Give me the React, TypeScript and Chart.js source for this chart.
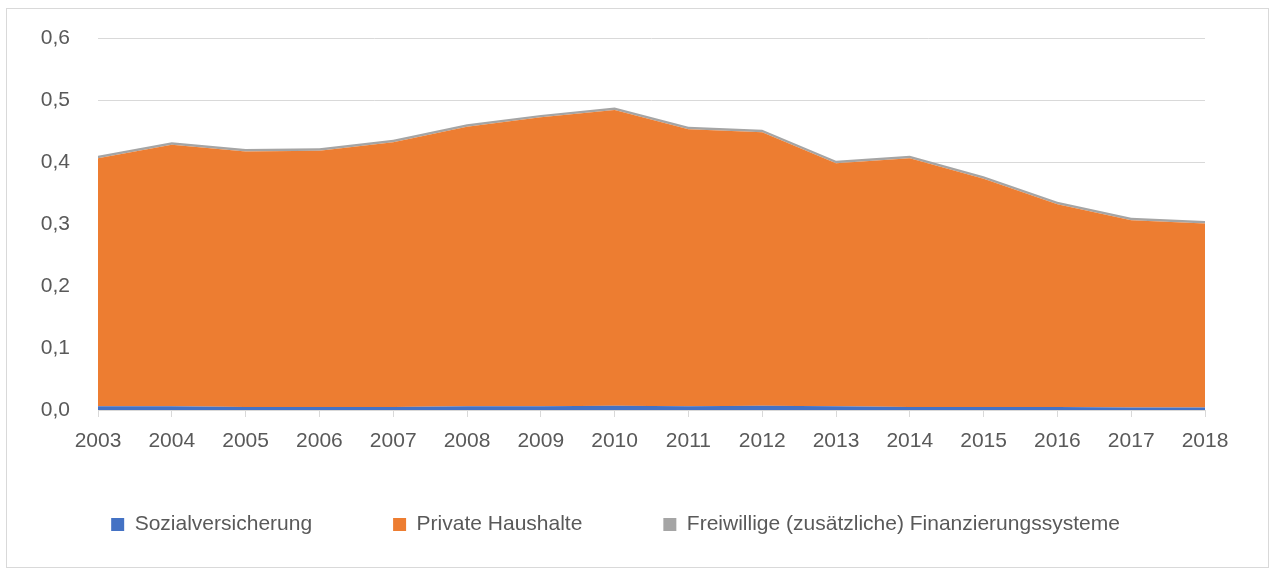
import React, { useEffect, useRef } from "react";
import { Chart, registerables } from "chart.js";

Chart.register(...registerables);

const years = ["2003","2004","2005","2006","2007","2008","2009","2010","2011","2012","2013","2014","2015","2016","2017","2018"];
const sozialversicherung = [0.006,0.006,0.005,0.005,0.005,0.006,0.006,0.007,0.006,0.007,0.006,0.005,0.005,0.005,0.004,0.004];
const privateHaushalte = [0.400,0.422,0.412,0.413,0.427,0.451,0.466,0.477,0.447,0.441,0.392,0.401,0.368,0.327,0.302,0.297];
const freiwillige = [0.004,0.004,0.004,0.004,0.004,0.004,0.004,0.004,0.004,0.004,0.004,0.004,0.004,0.004,0.004,0.004];
const seriesNames = ["Sozialversicherung", "Private Haushalte", "Freiwillige (zusätzliche) Finanzierungssysteme"];
const seriesColors = ["#4472C4", "#ED7D31", "#A5A5A5"];

const FONT = "'Liberation Sans', Arial, sans-serif";
const TEXT = "#595959";
const GRID = "#d9d9d9";

export default function App() {
  const ref = useRef<HTMLCanvasElement | null>(null);
  useEffect(() => {
    if (!ref.current) return;
    const values = [sozialversicherung, privateHaushalte, freiwillige];
    const chart = new Chart(ref.current, {
      type: "line",
      data: {
        labels: years,
        datasets: values.map((v, i) => ({
          label: seriesNames[i],
          data: v,
          backgroundColor: seriesColors[i],
          borderColor: seriesColors[i],
          borderWidth: 0,
          pointRadius: 0,
          tension: 0,
          fill: i === 0 ? "origin" : "-1",
        })),
      },
      options: {
        responsive: false,
        animation: false,
        devicePixelRatio: 1,
        layout: { padding: { left: 19, right: 63, top: 29, bottom: 22 } },
        plugins: {
          tooltip: { enabled: false },
          legend: {
            position: "bottom",
            labels: {
              color: TEXT,
              font: { family: FONT, size: 21 },
              boxWidth: 13,
              boxHeight: 13,
              padding: 81,
            },
          },
        },
        scales: {
          x: {
            stacked: true,
            offset: false,
            grid: { drawOnChartArea: false, drawTicks: true, tickLength: 7, color: GRID },
            border: { display: true, color: GRID },
            ticks: { color: TEXT, font: { family: FONT, size: 21 }, padding: 12, maxRotation: 0, autoSkip: false },
            afterFit: (s: any) => {
              s.height = 23;
              s._computeLabelArea = () => undefined;
            },
          },
          y: {
            stacked: true,
            min: 0,
            max: 0.6,
            grid: { color: GRID, drawTicks: true, tickLength: 12, tickColor: "rgba(0,0,0,0)" },
            border: { display: false },
            ticks: {
              stepSize: 0.1,
              padding: 16,
              color: TEXT,
              font: { family: FONT, size: 21 },
              callback: (v: any) => Number(v).toFixed(1).replace(".", ","),
            },
            afterFit: (s: any) => { s.width = 72; },
          },
        },
      },
    });
    return () => chart.destroy();
  }, []);
  return (
    <div
      style={{
        position: "absolute",
        left: 6,
        top: 8,
        width: 1263,
        height: 560,
        boxSizing: "border-box",
        border: "1px solid #d9d9d9",
        background: "#fff",
      }}
    >
      <canvas ref={ref} width={1261} height={558} style={{ display: "block" }} />
    </div>
  );
}
